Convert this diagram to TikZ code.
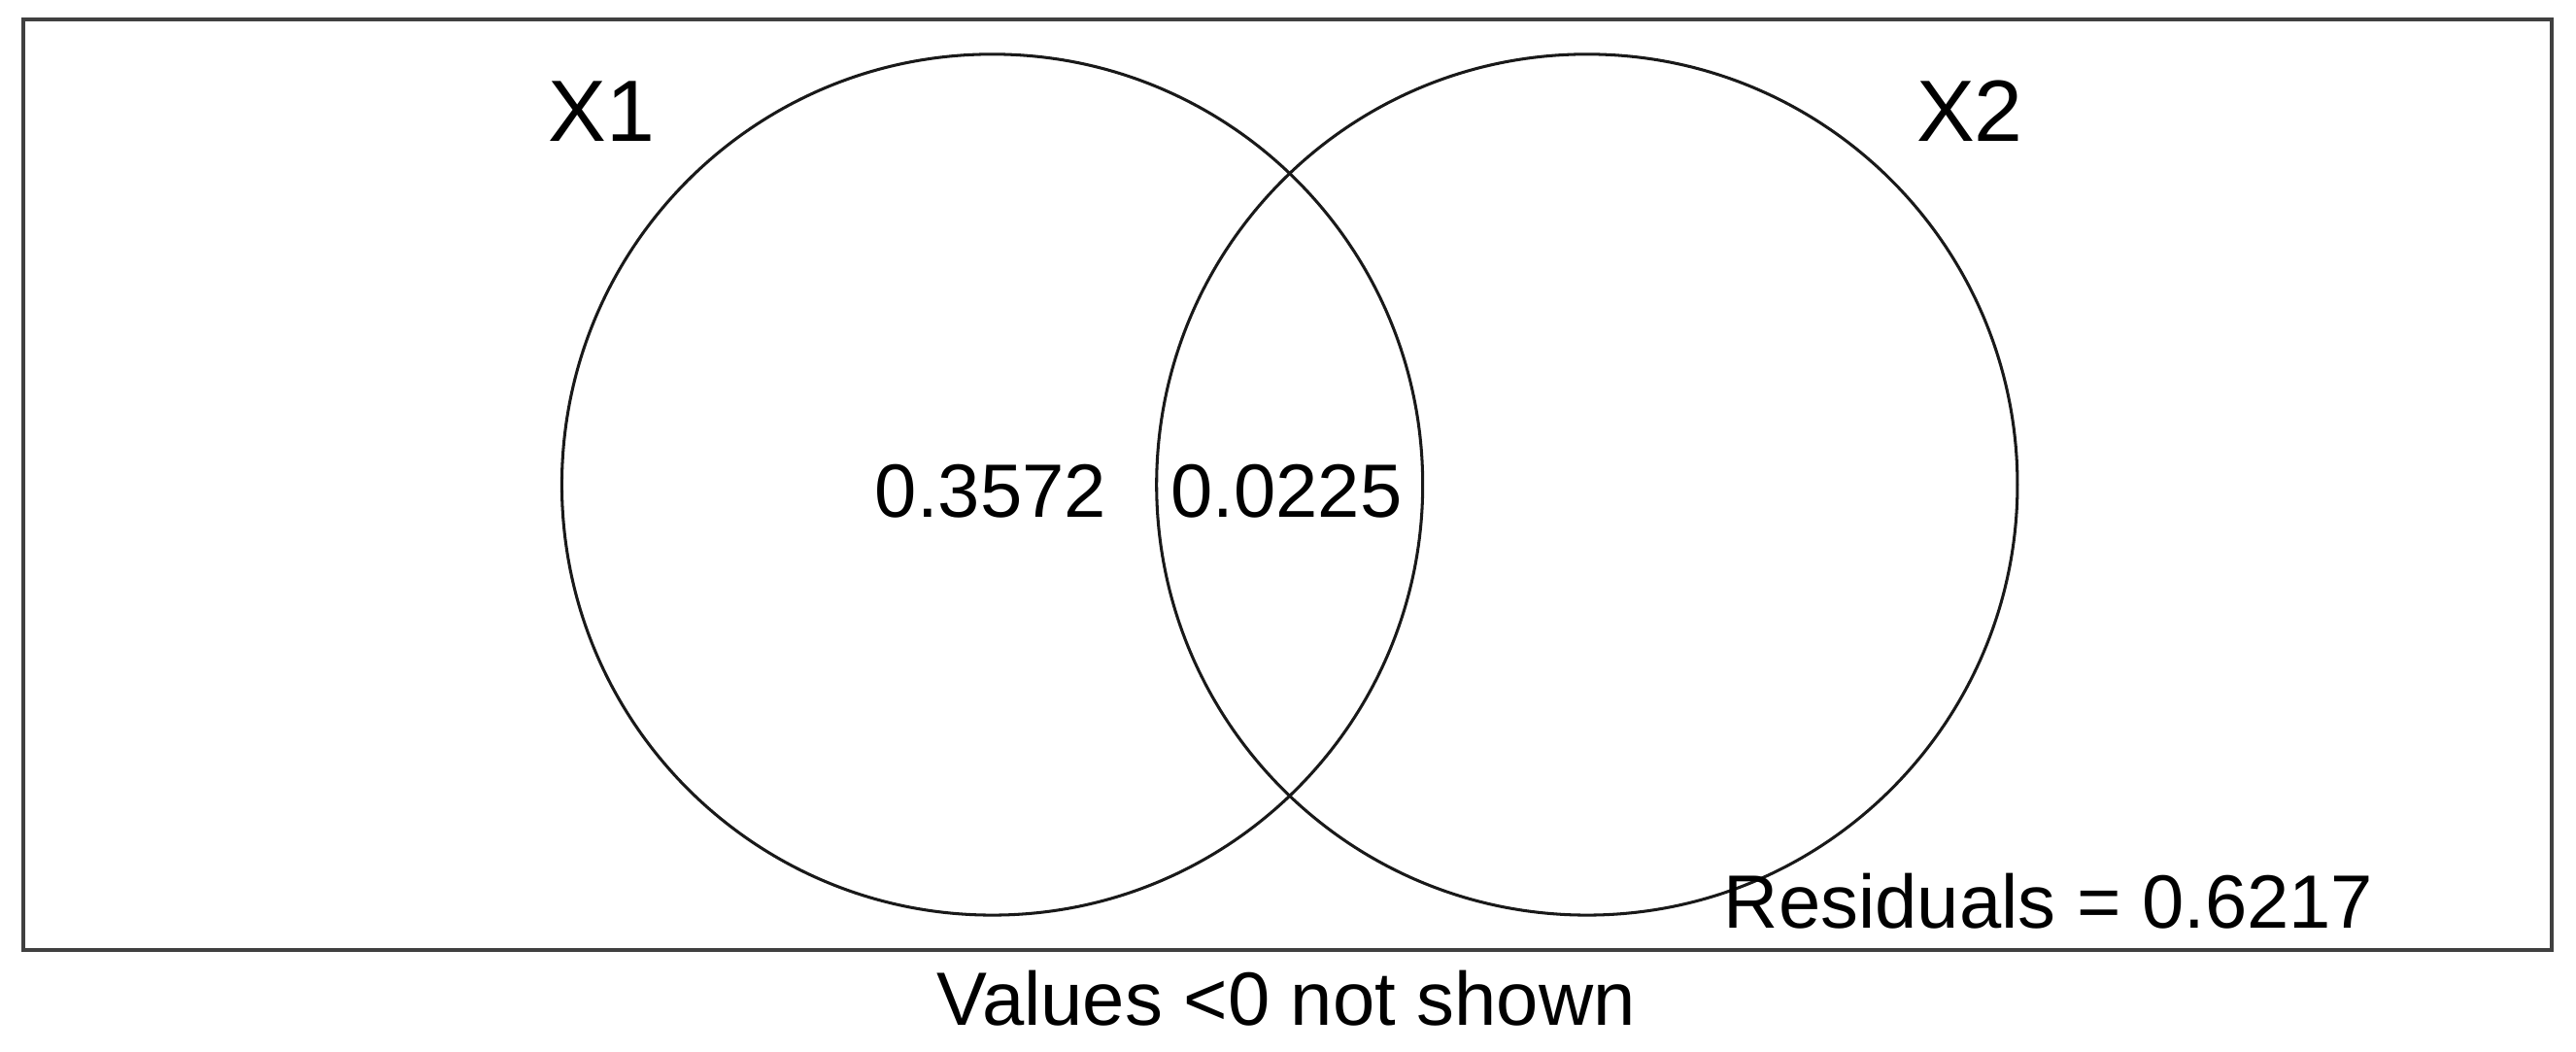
\documentclass[tikz,border=0pt]{standalone}
\usepackage{fontspec}
\setmainfont{Liberation Sans}
\begin{document}
\begin{tikzpicture}[x=1pt,y=-1pt,
  lbl/.style={inner sep=0pt, anchor=base, font=\fontsize{46}{50}\selectfont},
  setlbl/.style={inner sep=0pt, anchor=base, font=\fontsize{53}{58}\selectfont},
  setcirc/.style={circle, draw=black!90, line width=1.8pt, minimum size=524pt, inner sep=0pt, outer sep=0pt},
  frame/.style={draw=black!75, line width=2.4pt}]
\useasboundingbox (0,0) rectangle (1568,640);
\draw[frame] (14,12) rectangle (1553,578);
\node[setcirc] (c1) at (604,295) {};
\node[setcirc] (c2) at (966,295) {};
\node[setlbl] (x1) at (366,86) {X1};
\node[setlbl] (x2) at (1199,86) {X2};
\node[lbl] (a) at (603,315) {0.3572};
\node[lbl] (b) at (783,315) {0.0225};
\node[lbl] (res) at (1247,565) {Residuals = 0.6217};
\node[lbl] (note) at (783,624) {Values <0 not shown};
\end{tikzpicture}
\end{document}
